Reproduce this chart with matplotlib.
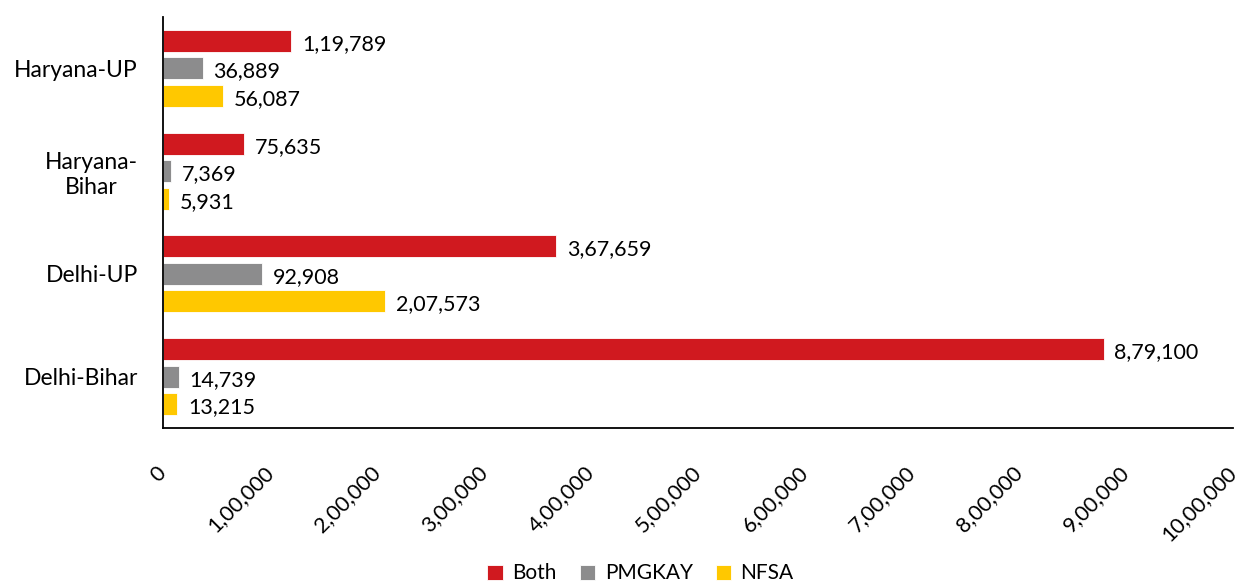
import numpy as np
from matplotlib import pyplot as plt
from matplotlib.ticker import FuncFormatter

categories = ["Haryana-UP", "Haryana-\nBihar", "Delhi-UP", "Delhi-Bihar"]
both = [119789, 75635, 367659, 879100]
pmgkay = [36889, 7369, 92908, 14739]
nfsa = [56087, 5931, 207573, 13215]
series_names = ["Both", "PMGKAY", "NFSA"]
colors = ["#D0191F", "#8C8C8D", "#FFC800"]


def indian(v):
    v = int(round(v))
    s = str(v)
    if len(s) <= 3:
        return s
    last = s[-3:]
    rest = s[:-3]
    parts = []
    while len(rest) > 2:
        parts.insert(0, rest[-2:])
        rest = rest[:-2]
    if rest:
        parts.insert(0, rest)
    return ",".join(parts) + "," + last


plt.rcParams['font.family'] = ['Lato', 'DejaVu Sans']

fig = plt.figure(figsize=(12.39, 5.83), dpi=100)
ax = fig.add_axes([0.1316, 0.2659, 0.8636, 0.7049])

y = np.arange(len(categories))
step = 0.268
h = 0.215
for i, (vals, name, c) in enumerate(zip([both, pmgkay, nfsa], series_names, colors)):
    pos = y + (i - 1) * step
    ax.barh(pos, vals, height=h, color=c, label=name, edgecolor="white", linewidth=0.6)
    for p, v in zip(pos, vals):
        ax.text(v + 10000, p + 0.03, indian(v), va="center", ha="left", fontsize=15.5)

ax.set_ylim(len(categories) - 0.5, -0.5)
ax.set_xlim(0, 1000000)
ax.set_xticks(np.arange(0, 1000001, 100000))
ax.xaxis.set_major_formatter(FuncFormatter(lambda v, p: indian(v)))
ax.set_yticks(y)
ax.set_yticklabels(categories, fontsize=16.5, multialignment="center")
ax.tick_params(axis="y", length=0, pad=18)
ax.tick_params(axis="x", length=0, pad=30, labelsize=15.5)
for lbl in ax.get_xticklabels():
    lbl.set_rotation(45)
    lbl.set_ha("right")
    lbl.set_va("center")
    lbl.set_rotation_mode("anchor")

ax.spines["top"].set_visible(False)
ax.spines["right"].set_visible(False)
ax.spines["left"].set_linewidth(1.3)
ax.spines["bottom"].set_linewidth(1.3)

fig.legend(loc="lower center", bbox_to_anchor=(0.517, -0.033), ncol=3, frameon=False,
           fontsize=15, handlelength=0.75, handleheight=0.75, columnspacing=1.1, handletextpad=0.45)

fig.savefig("out.png", dpi=100)
